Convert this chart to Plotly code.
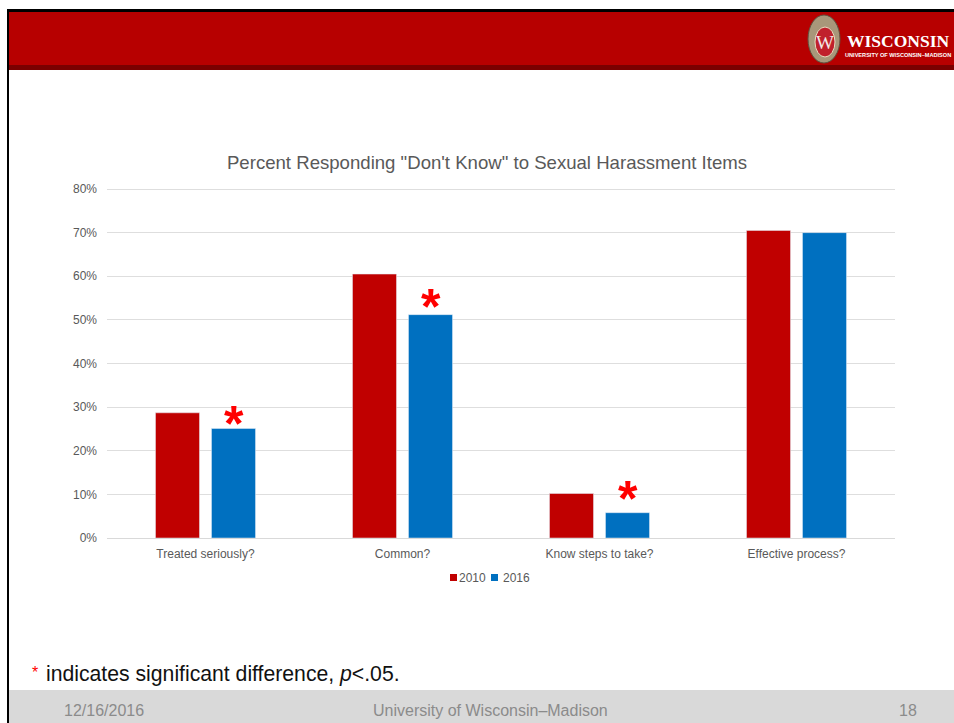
import plotly.graph_objects as go

categories = ["Treated seriously?", "Common?", "Know steps to take?", "Effective process?"]
values_2010 = [28.7, 60.5, 10.2, 70.5]
values_2016 = [25.1, 51.2, 5.8, 70.0]
asterisk_levels = [27.7, 54.6, 10.5]
asterisk_categories = ["Treated seriously?", "Common?", "Know steps to take?"]
tick_values = [0, 10, 20, 30, 40, 50, 60, 70, 80]
tick_labels = [f"{v}%" for v in tick_values]

W, H = 954, 723
L, R, T, B = 107, 895, 185, 538
Y_TOP = (B - T) * 80 / (538 - 189)
RED, BLUE = "#c00000", "#0070c0"
FONT = "Liberation Sans"


def px(x):
    return (x - L) / (R - L)


def py(y):
    return (B - y) / (B - T)


def rect(x0, y0, x1, y1, color, kind="rect", line=None):
    return dict(type=kind, xref="paper", yref="paper", x0=px(x0), x1=px(x1), y0=py(y1), y1=py(y0),
                fillcolor=color, line=dict(color=line or color, width=1 if line else 0), layer="below")


def label(x, y, text, size, color, anchor="left", family=FONT):
    return dict(xref="paper", yref="paper", x=px(x), y=py(y), text=text, showarrow=False,
                xanchor=anchor, yanchor="middle", font=dict(family=family, size=size, color=color))


fig = go.Figure()
fig.add_bar(name="2010", x=categories, y=values_2010, marker_color=RED)
fig.add_bar(name="2016", x=categories, y=values_2016, marker_color=BLUE)

shapes = [
    rect(9, 12, 954, 65, "#b70000"),
    rect(9, 65, 954, 70, "#7a0000"),
    rect(7, 9, 954, 12, "#000000"),
    rect(7, 9, 9, 723, "#000000"),
    rect(9, 690, 954, 723, "#d9d9d9"),
    # crest
    rect(808, 15, 840, 63, "#a8977a", "circle", "#5f5340"),
    rect(815, 27, 835, 57, "#c0202c", "circle", "#e8dcc0"),
    # legend swatches
    rect(450, 574, 457, 581, RED),
    rect(491, 574, 498, 581, BLUE),
]

annotations = [
    label(825, 42, "W", 19, "#f2e6e6", "center", "Liberation Serif"),
    label(897.5, 41, "<b>WISCONSIN</b>", 17.5, "#ffffff", "center", "Liberation Serif"),
    label(897.5, 55, "<b>UNIVERSITY OF WISCONSIN–MADISON</b>", 5.6, "#ffffff", "center"),
    label(457, 578, "2010", 12, "#595959"),
    label(501, 578, "2016", 12, "#595959"),
    label(30, 672, "*", 16, "#ff0000"),
    label(44, 674, "indicates significant difference, <i>p</i>&lt;.05.", 21.2, "#111111"),
    label(62, 710, "12/16/2016", 16, "#8b8b8b"),
    label(490, 710, "University of Wisconsin–Madison", 16, "#8b8b8b", "center"),
    label(919, 710, "18", 16, "#8b8b8b", "right"),
]

for cat, level in zip(asterisk_categories, asterisk_levels):
    annotations.append(dict(x=cat, y=level, xref="x", yref="y", text="<b>*</b>", showarrow=False,
                            xshift=28, yshift=-7, xanchor="center", yanchor="middle",
                            font=dict(family=FONT, size=50, color="#ff0000")))

fig.update_layout(
    width=W, height=H, autosize=False,
    margin=dict(l=L, r=W - R, t=T, b=H - B, pad=0),
    paper_bgcolor="#ffffff", plot_bgcolor="rgba(0,0,0,0)",
    barmode="group", bargap=0.4315, bargroupgap=0.214,
    showlegend=False,
    font=dict(family=FONT, color="#595959", size=12),
    title=dict(text="Percent Responding \"Don't Know\" to Sexual Harassment Items",
               x=487 / W, xanchor="center", y=1 - 162.5 / H, yanchor="middle",
               font=dict(family=FONT, size=18.6, color="#595959")),
    xaxis=dict(type="category", showgrid=False, showline=True, linecolor="#d9d9d9", linewidth=1,
               ticks="", tickfont=dict(size=12, color="#595959"), ticklen=0, ticklabelstandoff=5),
    yaxis=dict(range=[0, Y_TOP], tickvals=tick_values, ticktext=tick_labels, showgrid=True,
               gridcolor="#dedede", gridwidth=1, zeroline=False, showline=False, ticks="",
               tickfont=dict(size=12, color="#595959"), ticklabelstandoff=9),
    shapes=shapes,
    annotations=annotations,
)

fig.write_html("out.html", config={"displayModeBar": False},
               post_script="document.body.style.margin='0';document.body.style.overflow='hidden';")
